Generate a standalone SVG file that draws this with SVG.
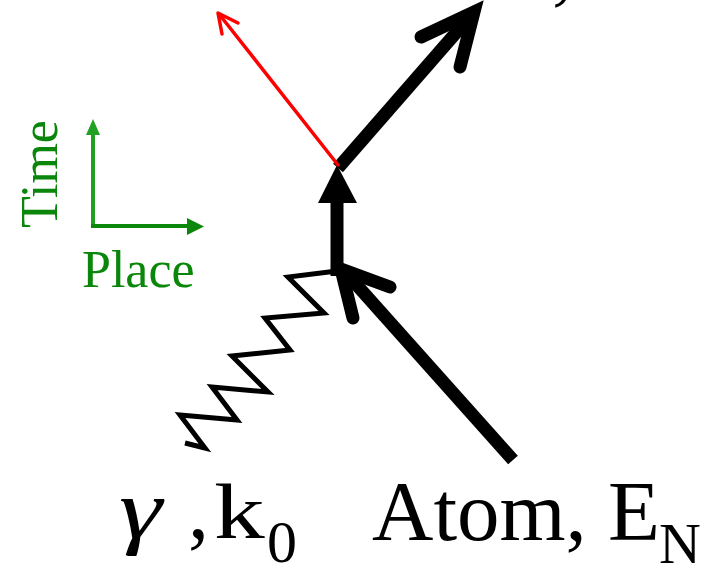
<svg xmlns="http://www.w3.org/2000/svg" width="705" height="565" viewBox="0 0 705 565">
<style>
.lbl{font-family:"Liberation Serif","Times New Roman",serif;fill:#000}
.g{font-family:"Liberation Serif","Times New Roman",serif;fill:#0a870a;font-size:52px}
.thick{stroke:#000;stroke-width:13;fill:none}
.red{stroke:#ff0000;stroke-width:3.5;fill:none;stroke-linecap:round}
</style>
<rect width="705" height="565" fill="#fff"/>
<g id="axes">
  <line x1="93" y1="226" x2="93" y2="133" stroke="#22a022" stroke-width="4"/>
  <polygon points="93,119 86,135 100,135" fill="#22a022"/>
  <line x1="91" y1="226" x2="189" y2="226" stroke="#0b870b" stroke-width="4"/>
  <polygon points="204,226.5 187,218 187,235" fill="#0b870b"/>
  <text class="g" transform="translate(57,228) rotate(-90)">Time</text>
  <text class="g" x="82" y="287">Place</text>
</g>
<g id="connectors">
  <g id="photon-line">
    <polyline points="337,271 288,277 324,313 265,318 290,350 232,356 268,392 212,387 237,420 180,415 205,448 185,443" fill="none" stroke="#000" stroke-width="5" stroke-linejoin="miter"/>
  </g>
  <g id="atom-in">
    <line x1="513" y1="460" x2="346" y2="273" class="thick"/>
    <polyline points="353,318 341,269 390,287" class="thick" stroke-linecap="round" stroke-linejoin="miter"/>
  </g>
  <g id="atom-up">
    <line x1="337" y1="276" x2="337" y2="200" class="thick"/>
    <polygon points="337,165 318,203 357,203" fill="#000"/>
  </g>
  <g id="atom-out">
    <line x1="338" y1="168" x2="468" y2="19" class="thick"/>
    <polyline points="421,37 474,12 460,67" class="thick" stroke-linecap="round" stroke-linejoin="miter"/>
  </g>
  <g id="emitted">
    <line x1="338" y1="165" x2="219" y2="14" class="red"/>
    <polyline points="238,23 218,13 222,34" class="red" stroke-linejoin="round"/>
  </g>
</g>
<g id="top-label">
  <text class="lbl" x="552" y="-5" font-size="84">,</text>
</g>
<g id="photon">
  <text class="lbl" transform="translate(119,538) scale(1.3,1)" font-size="84" font-style="italic">γ</text>
  <text class="lbl" x="188" y="538" font-size="84">,</text>
  <text class="lbl" transform="translate(214,538) scale(1.3,1)" font-size="78">k</text>
  <text class="lbl" x="267" y="562" font-size="60">0</text>
</g>
<g id="atom">
  <text class="lbl" x="372" y="540" font-size="85">Atom, E</text>
  <text class="lbl" x="659" y="563" font-size="58">N</text>
</g>
</svg>
